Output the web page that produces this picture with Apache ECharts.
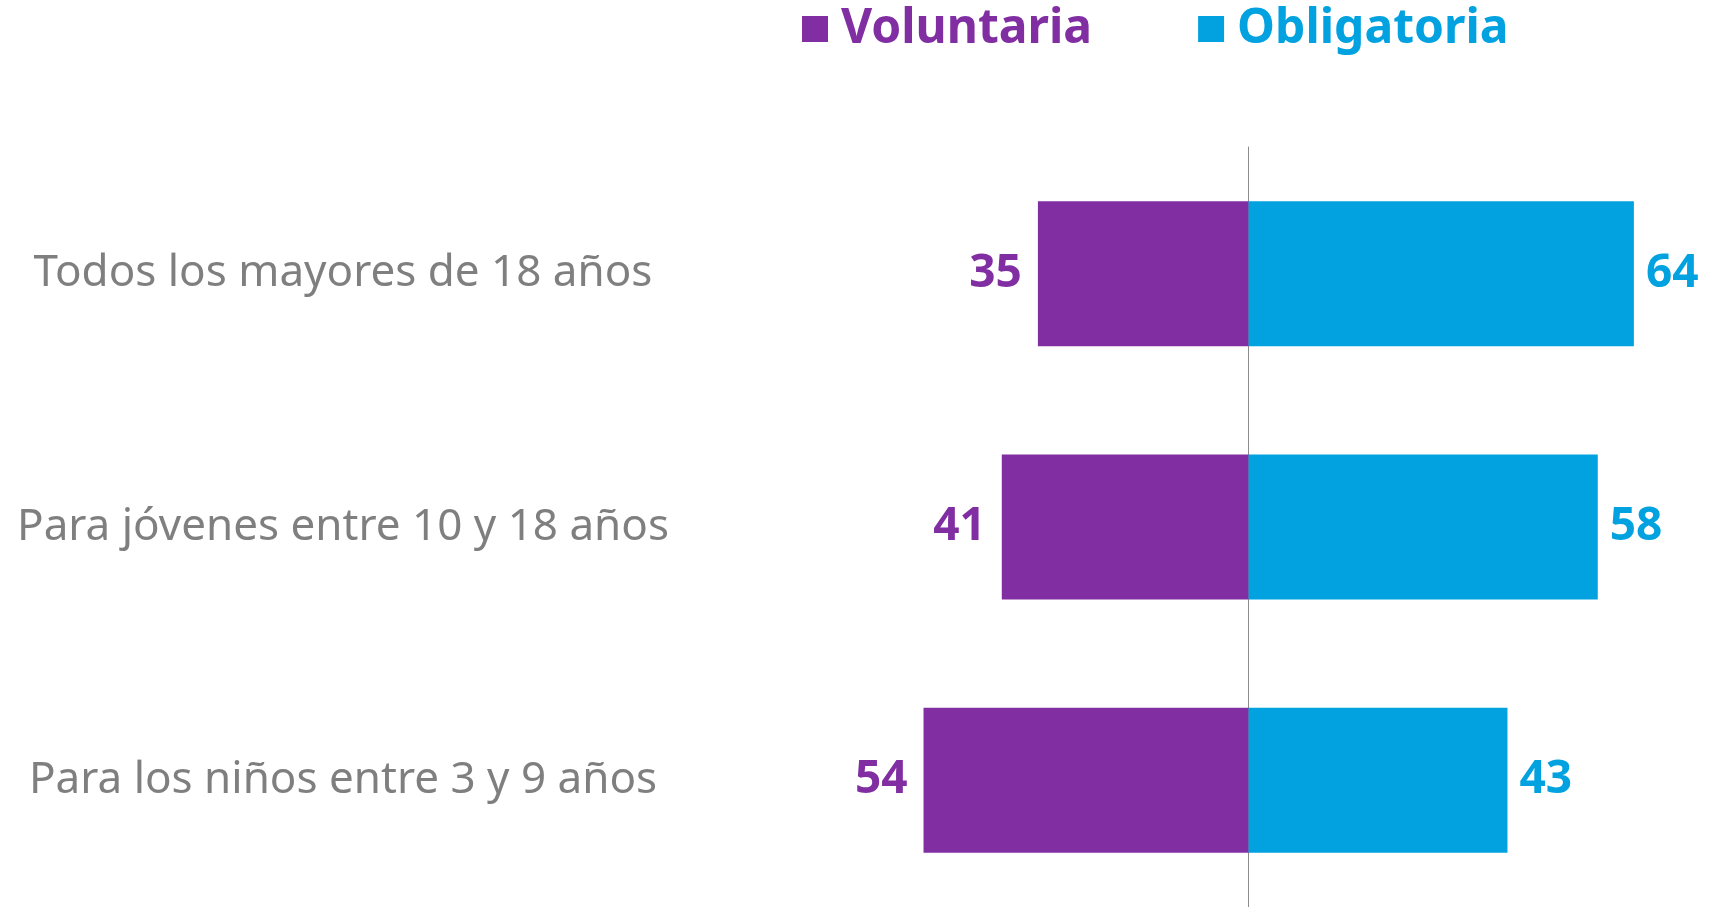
<!DOCTYPE html>
<html>
<head>
<meta charset="utf-8">
<script src="https://cdn.jsdelivr.net/npm/echarts@6/dist/echarts.min.js"></script>
<style>
html,body{margin:0;padding:0;background:#fff;}
#chart{width:1711px;height:907px;}
</style>
</head>
<body>
<div id="chart"></div>
<script>
// categorias (de arriba a abajo)
var categorias = ['Todos los mayores de 18 años', 'Para jóvenes entre 10 y 18 años', 'Para los niños entre 3 y 9 años'];
var voluntaria = [35, 41, 54];
var obligatoria = [64, 58, 43];

var colorVol = '#812ea3';
var colorObl = '#02a2e0';

var chart = echarts.init(document.getElementById('chart'));

var option = {
    animation: false,
    legend: {
        left: 797,
        top: 0,
        itemWidth: 26,
        itemHeight: 26,
        itemGap: 106,
        icon: 'rect',
        data: [
            {name: 'Voluntaria', textStyle: {color: colorVol}},
            {name: 'Obligatoria', textStyle: {color: colorObl}}
        ],
        textStyle: {
            fontFamily: 'Noto Sans',
            fontWeight: 'bold',
            fontSize: 48,
            padding: [0, 0, 0, 8]
        }
    },
    grid: {
        left: 767,
        right: 41,
        top: 147,
        bottom: 0,
        containLabel: false,
        outerBoundsMode: 'none'
    },
    xAxis: {
        type: 'value',
        min: -80,
        max: 70,
        show: false
    },
    yAxis: {
        type: 'category',
        inverse: true,
        data: categorias,
        axisLine: {onZero: true, lineStyle: {color: '#8c8c8c', width: 1}},
        axisTick: {show: false},
        axisLabel: {
            margin: 424,
            align: 'center',
            color: '#7f7f7f',
            fontFamily: 'Noto Sans',
            fontSize: 44
        }
    },
    series: [
        {
            name: 'Voluntaria',
            type: 'bar',
            stack: 'total',
            barWidth: 145,
            itemStyle: {color: colorVol},
            label: {
                show: true,
                position: 'left',
                distance: 16,
                color: colorVol,
                fontFamily: 'Noto Sans',
                fontWeight: 'bold',
                fontSize: 46,
                formatter: function (p) { return Math.abs(p.value); }
            },
            data: voluntaria.map(function (v) { return -v; })
        },
        {
            name: 'Obligatoria',
            type: 'bar',
            stack: 'total',
            barWidth: 145,
            itemStyle: {color: colorObl},
            label: {
                show: true,
                position: 'right',
                distance: 12,
                color: colorObl,
                fontFamily: 'Noto Sans',
                fontWeight: 'bold',
                fontSize: 46
            },
            data: obligatoria
        }
    ]
};
chart.setOption(option);
</script>
</body>
</html>
